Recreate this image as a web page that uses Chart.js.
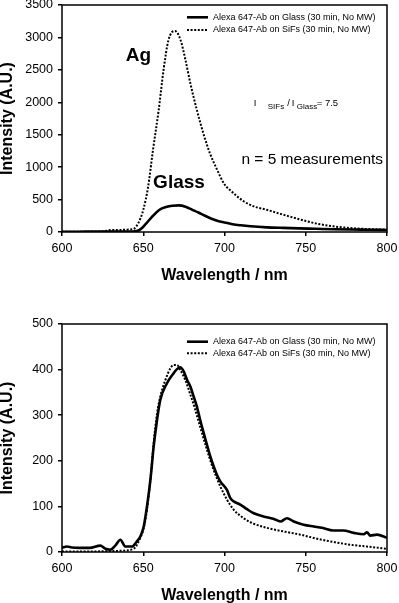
<!DOCTYPE html>
<html>
<head>
<meta charset="utf-8">
<script src="https://cdn.jsdelivr.net/npm/chart.js@4.4.0/dist/chart.umd.min.js"></script>
<style>
  html, body { margin: 0; padding: 0; background: #fff; overflow: hidden; }
  body { width: 399px; height: 603px; position: relative; }
  .box { position: absolute; left: 0; width: 399px; }
  #top { top: 0; height: 300px; }
  #bot { top: 300px; height: 320px; }
</style>
</head>
<body>
<div class="box" id="top"><canvas id="chartTop"></canvas></div>
<div class="box" id="bot"><canvas id="chartBot"></canvas></div>
<script>
// labels
const glassLabel = "Alexa 647-Ab on Glass (30 min, No MW)";
const sifsLabel = "Alexa 647-Ab on SiFs (30 min, No MW)";
const xTicks = [600, 650, 700, 750, 800];
const topYTicks = [0, 500, 1000, 1500, 2000, 2500, 3000, 3500];
const botYTicks = [0, 100, 200, 300, 400, 500];

// top panel: raw intensities
const topGlassNm = [600, 610, 620, 630, 640, 645, 648, 652, 656, 660, 664, 668, 672, 676, 680, 684, 688, 692, 696, 700, 705, 710, 716, 726, 736, 746, 756, 767, 778, 788, 800];
const topGlassVal = [5, 5, 6, 6, 8, 12, 36, 138, 251, 343, 384, 405, 410, 390, 345, 300, 250, 205, 170, 148, 120, 103, 88, 72, 63, 56, 50, 43, 38, 35, 31];
const topSifsNm = [600, 615, 625, 630, 636, 641, 644, 647, 650, 653, 656, 659.5, 662.5, 665.5, 669.5, 673, 676, 679, 683, 687, 691, 695.5, 699.5, 705.5, 712, 718, 726, 736, 747, 757, 767, 777, 788, 800];
const topSifsVal = [3, 4, 8, 30, 32, 38, 46, 140, 340, 700, 1265, 1880, 2500, 2957, 3100, 2957, 2650, 2290, 1880, 1520, 1215, 958, 753, 600, 470, 395, 343, 267, 190, 128, 87, 62, 46, 36];

// bottom panel: normalised
const botGlassNm = [600, 603, 606, 611, 617, 623.6, 626.7, 629.7, 632.8, 635.9, 639, 643, 646, 648.2, 650.3, 652.3, 654.4, 656.4, 658.5, 660.5, 664.6, 668.7, 670.8, 672.8, 674.9, 677, 679, 681, 683, 685, 687.2, 689.2, 691.3, 693.3, 695.4, 697.4, 701.5, 703.6, 705.6, 709.7, 713.8, 718, 724, 730, 734.4, 738.5, 742.6, 748.7, 755, 760, 767, 773, 779.5, 785.6, 787.7, 789.7, 793.8, 800];
const botGlassVal = [9, 12, 10, 9, 9, 14, 7, 5, 14, 27, 12, 12, 23, 34, 56, 100, 158, 231, 290, 334, 370, 392, 401, 405, 396, 377, 363, 341, 319, 290, 261, 235, 209, 188, 169, 155, 136, 118, 111, 104, 94, 85, 78, 73, 67, 74, 67, 60, 56, 53, 47, 47, 42, 39, 43, 36, 38, 31];
const botSifsNm = [600, 615, 630, 638, 644, 648.2, 650.3, 652.3, 654.4, 656.4, 658.5, 660.5, 663.6, 666.7, 668.7, 670.8, 672.8, 675.9, 679, 682, 685, 689.2, 693.3, 697.4, 701.5, 705.6, 711.8, 718, 726, 736.4, 746.7, 757, 767, 777.4, 787.7, 800];
const botSifsVal = [1, 1, 2, 3, 7, 31, 53, 93, 158, 239, 304, 341, 377, 403, 410, 410, 399, 377, 345, 312, 275, 224, 180, 144, 115, 93, 74, 62, 53, 45, 38, 29, 22, 16, 12, 7];

const FONT = "'Liberation Sans', Arial, Helvetica, sans-serif";

function pts(xs, ys) {
    return xs.map((x, i) => ({ x: x, y: ys[i] }));
}

// box round the plot area
const framePlugin = {
    id: "frame",
    afterDatasetsDraw(chart) {
        const a = chart.chartArea;
        const ctx = chart.ctx;
        ctx.save();
        ctx.strokeStyle = "#000";
        ctx.lineWidth = 1.5;
        ctx.strokeRect(a.left, a.top, a.right - a.left, a.bottom - a.top);
        ctx.restore();
    },
};

// legend inside the plot, drawn from the datasets
const insideLegend = {
    id: "insideLegend",
    afterDraw(chart, args, opts) {
        const a = chart.chartArea;
        const ctx = chart.ctx;
        ctx.save();
        ctx.font = "9px " + FONT;
        ctx.textBaseline = "middle";
        ctx.fillStyle = "#000";
        chart.data.datasets.forEach((ds, i) => {
            const y = a.top + opts.rows[i];
            ctx.strokeStyle = "#000";
            ctx.lineWidth = ds.borderWidth;
            ctx.setLineDash(ds.borderDash || []);
            ctx.beginPath();
            ctx.moveTo(a.right - 200, y);
            ctx.lineTo(a.right - 179, y);
            ctx.stroke();
            ctx.setLineDash([]);
            ctx.fillText(ds.label, a.right - 174, y);
        });
        ctx.restore();
    },
};

// text notes placed in data units
const notesPlugin = {
    id: "notes",
    afterDraw(chart, args, opts) {
        const ctx = chart.ctx;
        const xs = chart.scales.x;
        const ys = chart.scales.y;
        ctx.save();
        ctx.fillStyle = "#000";
        (opts.items || []).forEach((n) => {
            let px = xs.getPixelForValue(n.x);
            const py = ys.getPixelForValue(n.y);
            if (n.parts) {
                ctx.textAlign = "left";
                ctx.textBaseline = "alphabetic";
                n.parts.forEach((p) => {
                    ctx.font = (p.sub ? "8px " : "9.5px ") + FONT;
                    ctx.fillText(p.t, px + p.dx, py + (p.sub ? 3 : 0));
                });
            } else {
                ctx.font = n.font + " " + FONT;
                ctx.textAlign = "center";
                ctx.textBaseline = "middle";
                ctx.fillText(n.text, px, py);
            }
        });
        ctx.restore();
    },
};

function makeChart(id, glass, sifs, yTicks, yMax, rows, notes, padTop) {
    const ctx = document.getElementById(id);
    return new Chart(ctx, {
        type: "line",
        data: {
            datasets: [
                {
                    label: glassLabel,
                    data: glass,
                    borderColor: "#000",
                    borderWidth: 2.6,
                    pointRadius: 0,
                    fill: false,
                    cubicInterpolationMode: "monotone",
                },
                {
                    label: sifsLabel,
                    data: sifs,
                    borderColor: "#000",
                    borderWidth: 2,
                    borderDash: [2, 1.6],
                    pointRadius: 0,
                    fill: false,
                    cubicInterpolationMode: "monotone",
                },
            ],
        },
        options: {
            responsive: true,
            maintainAspectRatio: false,
            animation: false,
            layout: { padding: { top: padTop, right: 12, left: 0, bottom: 0 } },
            plugins: {
                legend: { display: false },
                tooltip: { enabled: false },
                insideLegend: { rows: rows },
                notes: { items: notes },
            },
            scales: {
                x: {
                    type: "linear",
                    min: 600,
                    max: 800,
                    afterBuildTicks: (s) => { s.ticks = xTicks.map((v) => ({ value: v })); },
                    afterFit: (s) => {
                        s.height = 68;
                        s.paddingLeft = 0;
                        s.paddingRight = 0;
                    },
                    border: { display: false },
                    grid: { drawOnChartArea: false, drawTicks: true, tickLength: 4, color: "#000", lineWidth: 1.5 },
                    ticks: {
                        color: "#000",
                        font: { family: FONT, size: 12.5 },
                        padding: 5,
                        maxRotation: 0,
                        callback: (v) => String(v),
                    },
                    title: {
                        display: true,
                        text: "Wavelength / nm",
                        color: "#000",
                        font: { family: FONT, size: 16, weight: "bold" },
                        padding: { top: 0, bottom: 15 },
                    },
                },
                y: {
                    min: 0,
                    max: yMax,
                    afterBuildTicks: (s) => { s.ticks = yTicks.map((v) => ({ value: v })); },
                    afterFit: (s) => {
                        s.width = 62;
                        s.paddingTop = 0;
                        s.paddingBottom = 0;
                    },
                    border: { display: false },
                    grid: { drawOnChartArea: false, drawTicks: true, tickLength: 4, color: "#000", lineWidth: 1.5 },
                    ticks: {
                        color: "#000",
                        font: { family: FONT, size: 12.5 },
                        padding: 5,
                        callback: (v) => String(v),
                    },
                    title: {
                        display: true,
                        text: "Intensity (A.U.)",
                        color: "#000",
                        font: { family: FONT, size: 16, weight: "bold", lineHeight: 1 },
                        padding: { top: 0, bottom: 0 },
                    },
                },
            },
        },
        plugins: [framePlugin, insideLegend, notesPlugin],
    });
}

makeChart(
    "chartTop",
    pts(topGlassNm, topGlassVal),
    pts(topSifsNm, topSifsVal),
    topYTicks,
    3500,
    [12.3, 25],
    [
        { text: "Ag", x: 647, y: 2720, font: "bold 19px" },
        { text: "Glass", x: 672, y: 752, font: "bold 19px" },
        { text: "n = 5 measurements", x: 754, y: 1120, font: "15.5px" },
        {
            x: 718,
            y: 1950,
            parts: [
                { t: "I", dx: 0 },
                { t: "SIFs", dx: 14, sub: true },
                { t: "/", dx: 33.5 },
                { t: "I", dx: 38 },
                { t: "Glass", dx: 43, sub: true },
                { t: "= 7.5", dx: 63 },
            ],
        },
    ],
    5
);

makeChart(
    "chartBot",
    pts(botGlassNm, botGlassVal),
    pts(botSifsNm, botSifsVal),
    botYTicks,
    500,
    [17.7, 29.3],
    [],
    24
);
</script>
</body>
</html>
